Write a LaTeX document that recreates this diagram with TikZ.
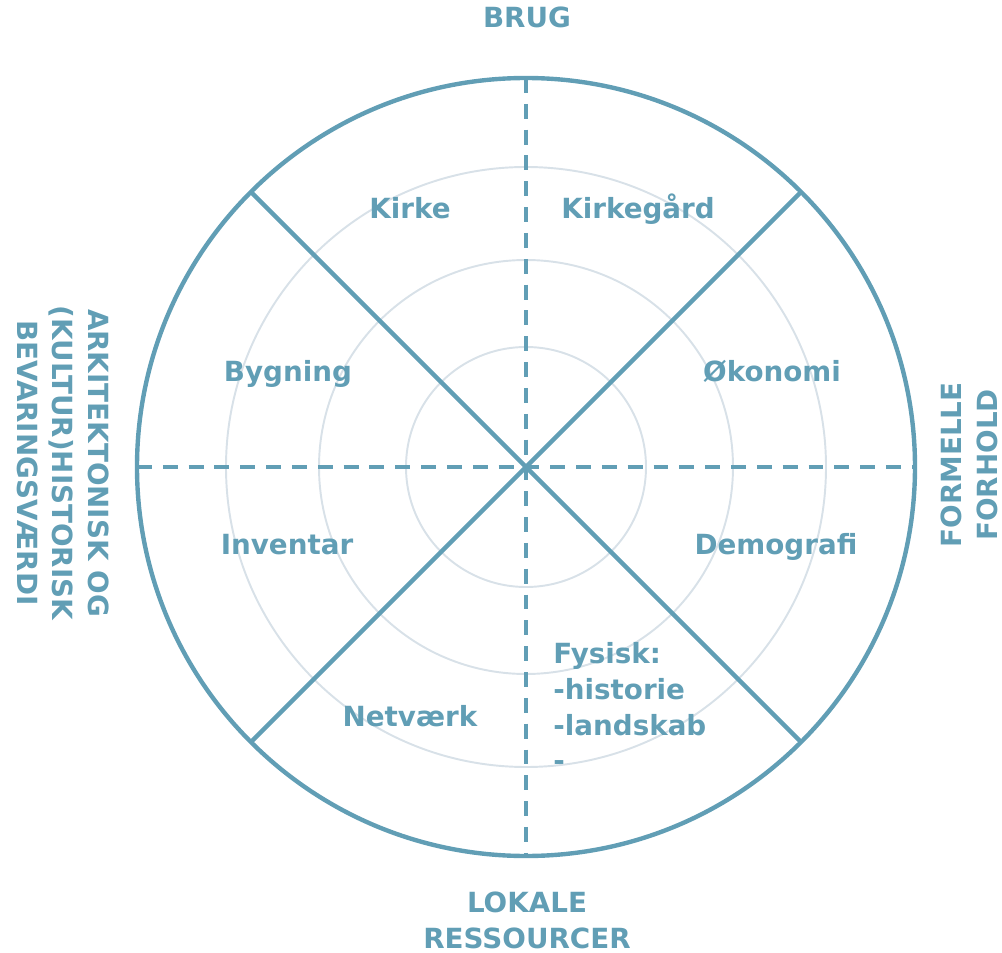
\documentclass[tikz,border=0pt]{standalone}
\usepackage{fontspec}
\setmainfont{DejaVu Sans}
\usepackage{xcolor}
\usetikzlibrary{positioning,calc}
\definecolor{wheelblue}{HTML}{619EB5}
\definecolor{ringgrey}{HTML}{D8E1E8}

\begin{document}
\begin{tikzpicture}[x=0.02cm, y=-0.02cm,
    spoke/.style={draw=wheelblue, line width=2.5pt},
    axisline/.style={draw=wheelblue, line width=2.7pt, dash pattern=on 8.5pt off 6.2pt},
    ring/.style={draw=ringgrey, line width=1.1pt},
    sector/.style={text=wheelblue, font=\bfseries\fontsize{15.8}{20.4}\selectfont, inner sep=0pt},
    heading/.style={sector, align=center}]
    \useasboundingbox (0,0) rectangle (1002,953);
    \coordinate (O) at (526,467);
    % faint rings
    \draw[ring] (O) circle (120);
    \draw[ring] (O) circle (207);
    \draw[ring] (O) circle (300);
    % outer wheel and spokes
    \draw[spoke] (O) circle (389);
    \draw[spoke] (O) ++(45:389) coordinate (SE) -- ++(225:778) coordinate (NW);
    \draw[spoke] (O) ++(135:389) coordinate (SW) -- ++(315:778) coordinate (NE);
    \draw[axisline] (O) ++(0,-389) coordinate (N) -- ++(0,778) coordinate (S);
    \draw[axisline] (O) ++(-389,0) coordinate (W) -- ++(778,0) coordinate (E);
    % sectors
    \node[sector, anchor=base] (kirke) at (410,219) {Kirke};
    \node[sector, anchor=base] (kirkegaard) at (638,219) {Kirkegård};
    \node[sector, anchor=base] (bygning) at (288,381) {Bygning};
    \node[sector, anchor=base] (oekonomi) at (772,381) {Økonomi};
    \node[sector, anchor=base] (inventar) at (287,554) {Inventar};
    \node[sector, anchor=base] (demografi) at (776,554) {Demografi};
    \node[sector, anchor=base] (netvaerk) at (410,726) {Netværk};
    \node[sector, anchor=north west, align=left] (fysisk) at (553,642)
        {Fysisk:\\-historie\\-landskab\\-};
    % axis headings
    \node[heading, anchor=base] (brug) at (527,28) {BRUG};
    \node[heading] (lokale) at (527,920) {LOKALE\\RESSOURCER};
    \node[heading, rotate=-90] (vaerdi) at (63,463) {ARKITEKTONISK OG\\(KULTUR)HISTORISK\\BEVARINGSVÆRDI};
    \node[heading, rotate=90] (formelle) at (969,465) {FORMELLE\\FORHOLD};
\end{tikzpicture}
\end{document}
